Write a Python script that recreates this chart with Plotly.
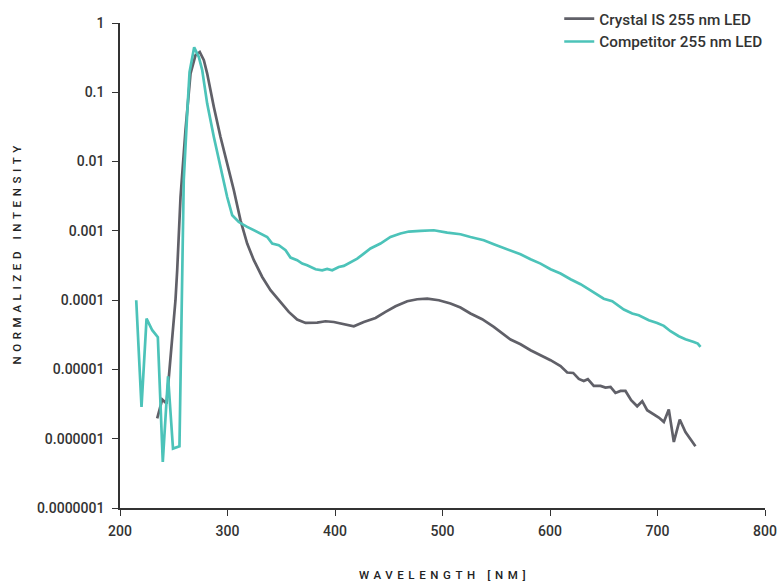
import plotly.graph_objects as go

# Crystal IS 255 nm LED
crystal_wl = [234.6, 239.3, 243.3, 251.6, 253.2, 256.3, 260.9, 265.6, 270.2, 274.2,
              278.0, 281.1, 287.3, 293.5, 299.7, 305.9, 312.1, 318.3, 324.5, 332.3,
              340.0, 349.3, 357.0, 364.8, 372.6, 383.4, 391.2, 398.9, 408.2, 417.5,
              426.8, 437.7, 447.0, 456.3, 467.2, 476.5, 485.8, 496.6, 507.4, 516.7,
              526.0, 536.9, 547.7, 558.6, 563.3, 572.6, 581.9, 591.2, 600.5, 609.8,
              616.0, 621.6, 626.8, 631.4, 635.2, 640.7, 647.0, 651.6, 656.3, 660.9,
              665.6, 670.2, 675.5, 681.1, 685.8, 690.4, 696.6, 701.2, 705.9, 710.5,
              715.2, 720.7, 726.0, 735.3]
crystal_int = [1.96e-6, 3.68e-6, 3.22e-6, 9.97e-5, 2.70e-4, 3.08e-3, 0.0283, 0.186, 0.342, 0.382,
               0.290, 0.186, 0.0614, 0.0226, 0.00935, 0.00385, 0.00142, 6.56e-4, 3.77e-4, 2.16e-4,
               1.39e-4, 9.42e-5, 6.76e-5, 5.25e-5, 4.69e-5, 4.75e-5, 4.96e-5, 4.84e-5, 4.49e-5, 4.20e-5,
               4.84e-5, 5.53e-5, 6.76e-5, 8.17e-5, 9.64e-5, 1.03e-4, 1.05e-4, 9.97e-5, 8.94e-5, 7.82e-5,
               6.41e-5, 5.30e-5, 4.10e-5, 3.12e-5, 2.70e-5, 2.31e-5, 1.89e-5, 1.60e-5, 1.36e-5, 1.12e-5,
               9.02e-6, 8.90e-6, 7.29e-6, 6.82e-6, 7.22e-6, 5.78e-6, 5.78e-6, 5.48e-6, 5.59e-6, 4.58e-6,
               4.89e-6, 4.89e-6, 3.60e-6, 2.94e-6, 3.48e-6, 2.58e-6, 2.26e-6, 2.02e-6, 1.75e-6, 2.64e-6,
               8.99e-7, 1.89e-6, 1.25e-6, 7.80e-7]

# Competitor 255 nm LED
comp_wl = [215.1, 220.0, 224.7, 230.0, 235.2, 239.8, 244.7, 249.3, 255.3, 259.3,
           262.5, 264.7, 269.0, 273.3, 276.5, 281.1, 287.3, 293.5, 299.7, 304.4,
           310.5, 318.3, 327.6, 336.9, 341.6, 347.7, 354.0, 358.6, 364.8, 369.5,
           374.1, 381.9, 388.1, 392.7, 397.4, 403.5, 408.2, 414.4, 420.7, 426.8,
           433.0, 442.3, 451.6, 460.9, 468.7, 479.5, 491.9, 504.4, 516.7, 526.0,
           538.4, 547.7, 560.2, 572.6, 581.9, 591.2, 600.5, 609.8, 619.1, 628.4,
           637.7, 650.0, 657.9, 668.7, 676.5, 682.6, 691.9, 699.7, 705.9, 712.1,
           719.8, 726.0, 733.8, 737.5, 740.0]
comp_int = [9.97e-5, 2.88e-6, 5.42e-5, 3.68e-5, 2.92e-5, 4.62e-7, 7.98e-6, 7.22e-7, 7.80e-7, 5.37e-3,
            0.0493, 0.196, 0.446, 0.323, 0.208, 0.0687, 0.0226, 0.00836, 0.00308, 0.00168,
            0.00134, 0.00114, 9.64e-4, 8.16e-4, 6.56e-4, 6.20e-4, 5.25e-4, 4.12e-4, 3.77e-4, 3.37e-4,
            3.19e-4, 2.79e-4, 2.70e-4, 2.82e-4, 2.70e-4, 3.01e-4, 3.12e-4, 3.56e-4, 3.98e-4, 4.70e-4,
            5.56e-4, 6.56e-4, 8.16e-4, 9.14e-4, 9.77e-4, 9.97e-4, 1.02e-3, 9.44e-4, 8.93e-4, 8.16e-4,
            7.31e-4, 6.41e-4, 5.48e-4, 4.59e-4, 3.89e-4, 3.37e-4, 2.79e-4, 2.42e-4, 2.00e-4, 1.70e-4,
            1.38e-4, 1.05e-4, 9.64e-5, 7.31e-5, 6.41e-5, 6.05e-5, 5.13e-5, 4.69e-5, 4.25e-5, 3.56e-5,
            3.01e-5, 2.73e-5, 2.49e-5, 2.36e-5, 2.11e-5]

x_ticks = [200, 300, 400, 500, 600, 700, 800]
y_ticks = [1e-7, 1e-6, 1e-5, 1e-4, 1e-3, 1e-2, 1e-1, 1]
y_tick_labels = ["0.0000001", "0.000001", "0.00001", "0.0001", "0.001", "0.01", "0.1", "1"]

GRAY = "#606068"
TEAL = "#4cc3b9"
AXIS = "#333333"
FONT = "Roboto, 'Noto Sans', sans-serif"

fig = go.Figure()
fig.add_trace(go.Scatter(x=crystal_wl, y=crystal_int, mode="lines",
                         name="Crystal IS 255 nm LED",
                         line=dict(color=GRAY, width=2.7)))
fig.add_trace(go.Scatter(x=comp_wl, y=comp_int, mode="lines",
                         name="Competitor 255 nm LED",
                         line=dict(color=TEAL, width=2.7)))

fig.update_layout(
    width=780, height=582,
    margin=dict(l=120, r=15, t=23, b=74, autoexpand=False),
    paper_bgcolor="white", plot_bgcolor="white",
    font=dict(family=FONT, size=13, color=AXIS),
    showlegend=True,
    legend=dict(x=0.681, y=1.043, xref="paper", yref="paper",
                xanchor="left", yanchor="top",
                font=dict(family=FONT, size=15.3, color=AXIS, weight=500),
                bgcolor="rgba(0,0,0,0)", tracegroupgap=0),
    xaxis=dict(range=[200, 800], tickvals=x_ticks, ticktext=[str(v) for v in x_ticks],
               automargin=False, ticklabelstandoff=3,
               showgrid=False, zeroline=False, showline=True, linecolor=AXIS, linewidth=1.5,
               ticks="outside", ticklen=6, tickwidth=1.2, tickcolor=AXIS,
               tickfont=dict(family=FONT, size=14, color=AXIS, weight=500)),
    yaxis=dict(type="log", range=[-7, 0], tickvals=y_ticks, ticktext=y_tick_labels,
               automargin=False, ticklabelstandoff=5,
               showgrid=False, zeroline=False, showline=True, linecolor=AXIS, linewidth=1.5,
               ticks="outside", ticklen=6, tickwidth=1.2, tickcolor=AXIS,
               tickfont=dict(family=FONT, size=14, color=AXIS, weight=500)),
    annotations=[
        dict(text='<span style="letter-spacing:4.6px">WAVELENGTH [NM]</span>',
             xref="paper", yref="paper", x=0.5, y=0, yshift=-67, xshift=2,
             xanchor="center", yanchor="middle", showarrow=False,
             font=dict(family=FONT, size=11.5, color="#222222", weight=500)),
        dict(text='<span style="letter-spacing:4.6px">NORMALIZED INTENSITY</span>',
             xref="paper", yref="paper", x=0, y=0.5, xshift=-104, yshift=12, textangle=-90,
             xanchor="center", yanchor="middle", showarrow=False,
             font=dict(family=FONT, size=11.5, color="#222222", weight=500)),
    ],
)

# remove the default 8 px page margin so the 780 x 582 figure fills the window
fig.write_html("out.html",
               config={"displayModeBar": False},
               post_script="document.body.style.margin='0';document.body.style.overflow='hidden';")
